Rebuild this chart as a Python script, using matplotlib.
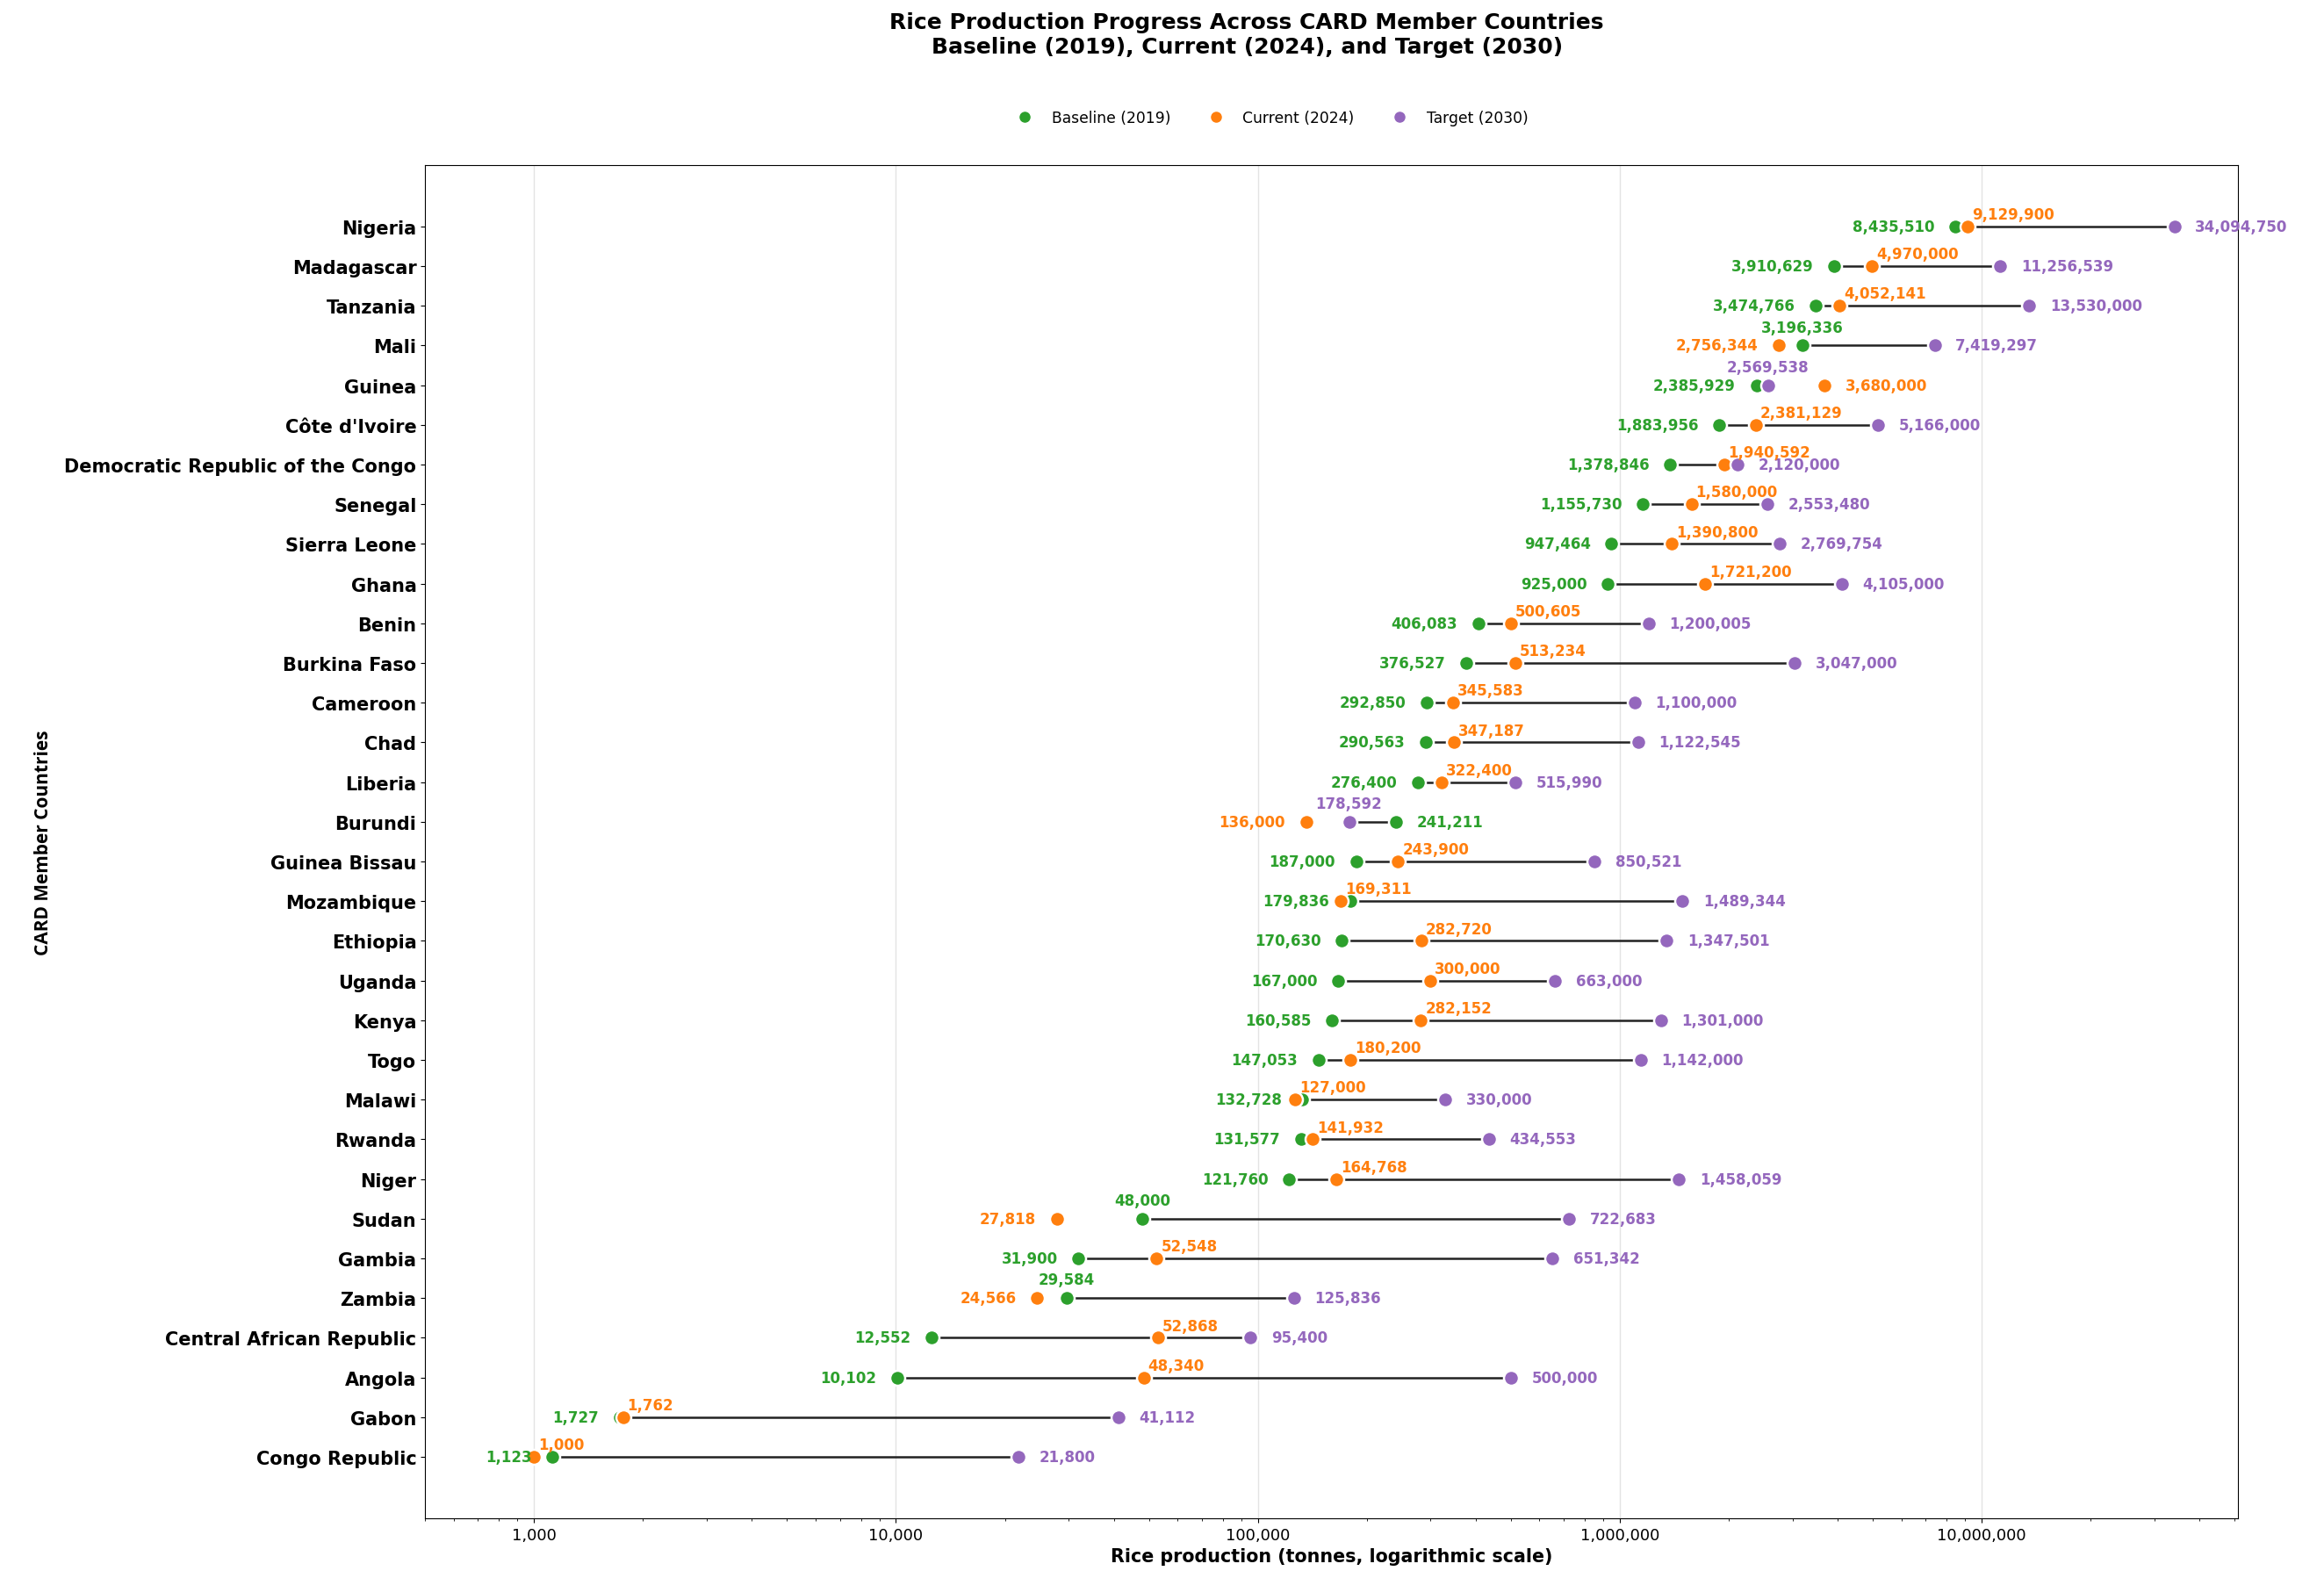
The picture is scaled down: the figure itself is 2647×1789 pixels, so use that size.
import matplotlib
matplotlib.use("Agg")
import matplotlib.pyplot as plt
from matplotlib.lines import Line2D
from matplotlib.ticker import FuncFormatter, LogLocator

# production in tonnes, top to bottom as in the chart
countries = ["Nigeria", "Madagascar", "Tanzania", "Mali", "Guinea", "Côte d'Ivoire",
             "Democratic Republic of the Congo", "Senegal", "Sierra Leone", "Ghana",
             "Benin", "Burkina Faso", "Cameroon", "Chad", "Liberia", "Burundi",
             "Guinea Bissau", "Mozambique", "Ethiopia", "Uganda", "Kenya", "Togo",
             "Malawi", "Rwanda", "Niger", "Sudan", "Gambia", "Zambia",
             "Central African Republic", "Angola", "Gabon", "Congo Republic"]
baseline = [8435510, 3910629, 3474766, 3196336, 2385929, 1883956, 1378846, 1155730,
            947464, 925000, 406083, 376527, 292850, 290563, 276400, 241211, 187000,
            179836, 170630, 167000, 160585, 147053, 132728, 131577, 121760, 48000,
            31900, 29584, 12552, 10102, 1727, 1123]
current = [9129900, 4970000, 4052141, 2756344, 3680000, 2381129, 1940592, 1580000,
           1390800, 1721200, 500605, 513234, 345583, 347187, 322400, 136000, 243900,
           169311, 282720, 300000, 282152, 180200, 127000, 141932, 164768, 27818,
           52548, 24566, 52868, 48340, 1762, 1000]
target = [34094750, 11256539, 13530000, 7419297, 2569538, 5166000, 2120000, 2553480,
          2769754, 4105000, 1200005, 3047000, 1100000, 1122545, 515990, 178592, 850521,
          1489344, 1347501, 663000, 1301000, 1142000, 330000, 434553, 1458059, 722683,
          651342, 125836, 95400, 500000, 41112, 21800]

series_names = ["Baseline (2019)", "Current (2024)", "Target (2030)"]
colors = ["#2ca02c", "#ff7f0e", "#9467bd"]

fig = plt.figure(figsize=(26.47, 17.9), dpi=100)
ax = fig.add_axes([0.1829, 0.0335, 0.7802, 0.861])

n = len(countries)
for i, name in enumerate(countries):
    y = n - 1 - i
    vals = [baseline[i], current[i], target[i]]
    # line from baseline to target, current is only a dot
    ax.plot([vals[0], vals[2]], [y, y], color="#222222", lw=1.8, zorder=1)
    for k in range(3):
        ax.scatter(vals[k], y, s=150, color=colors[k], edgecolor="white",
                   linewidth=1.8, zorder=3)

    # small drops of current are kept next to baseline
    keys = list(vals)
    if vals[0] * 0.875 <= vals[1] < vals[0]:
        keys[1] = vals[0] * 1.0001
    order = sorted(range(3), key=lambda k: keys[k])
    lo, mid, hi = order
    ax.annotate(f"{vals[lo]:,}", (vals[lo], y), xytext=(-17, 0), textcoords="offset points",
                ha="right", va="center", color=colors[lo], fontsize=12, fontweight="bold")
    ax.annotate(f"{vals[hi]:,}", (vals[hi], y), xytext=(17, 0), textcoords="offset points",
                ha="left", va="center", color=colors[hi], fontsize=12, fontweight="bold")
    if mid == 1:
        ax.annotate(f"{vals[mid]:,}", (vals[mid], y), xytext=(3.5, 10), textcoords="offset points",
                    ha="left", va="center", color=colors[mid], fontsize=12, fontweight="bold")
    else:
        ax.annotate(f"{vals[mid]:,}", (vals[mid], y), xytext=(0, 15), textcoords="offset points",
                    ha="center", va="center", color=colors[mid], fontsize=12, fontweight="bold")

ax.set_xscale("log")
allv = baseline + current + target
ax.set_xlim(min(allv) * 0.5, max(allv) * 1.5)
ax.set_ylim(-1.55, n - 1 + 1.55)
ax.xaxis.set_major_locator(LogLocator(base=10))
ax.xaxis.set_major_formatter(FuncFormatter(lambda v, p: f"{int(round(v)):,}"))
ax.tick_params(axis="x", labelsize=13)
ax.set_yticks(range(n - 1, -1, -1))
ax.set_yticklabels(countries, fontsize=15, fontweight="bold")
ax.grid(axis="x", which="major", color="#e3e3e3", lw=1)
ax.set_axisbelow(True)

ax.set_xlabel("Rice production (tonnes, logarithmic scale)", fontsize=14.9, fontweight="bold")
ax.set_ylabel("CARD Member Countries", fontsize=15, fontweight="bold",
              family=["Open Sans", "DejaVu Sans"], labelpad=10)

fig.suptitle("Rice Production Progress Across CARD Member Countries\n"
             "Baseline (2019), Current (2024), and Target (2030)",
             x=0.5365, y=0.992, va="top", fontsize=18, fontweight="bold")

handles = [Line2D([], [], marker="o", linestyle="", color=c, markersize=8) for c in colors]
fig.legend(handles, series_names, loc="center", bbox_to_anchor=(0.546, 0.9246),
           ncol=3, frameon=False, fontsize=12.3)

fig.savefig("out.png", dpi=100)
